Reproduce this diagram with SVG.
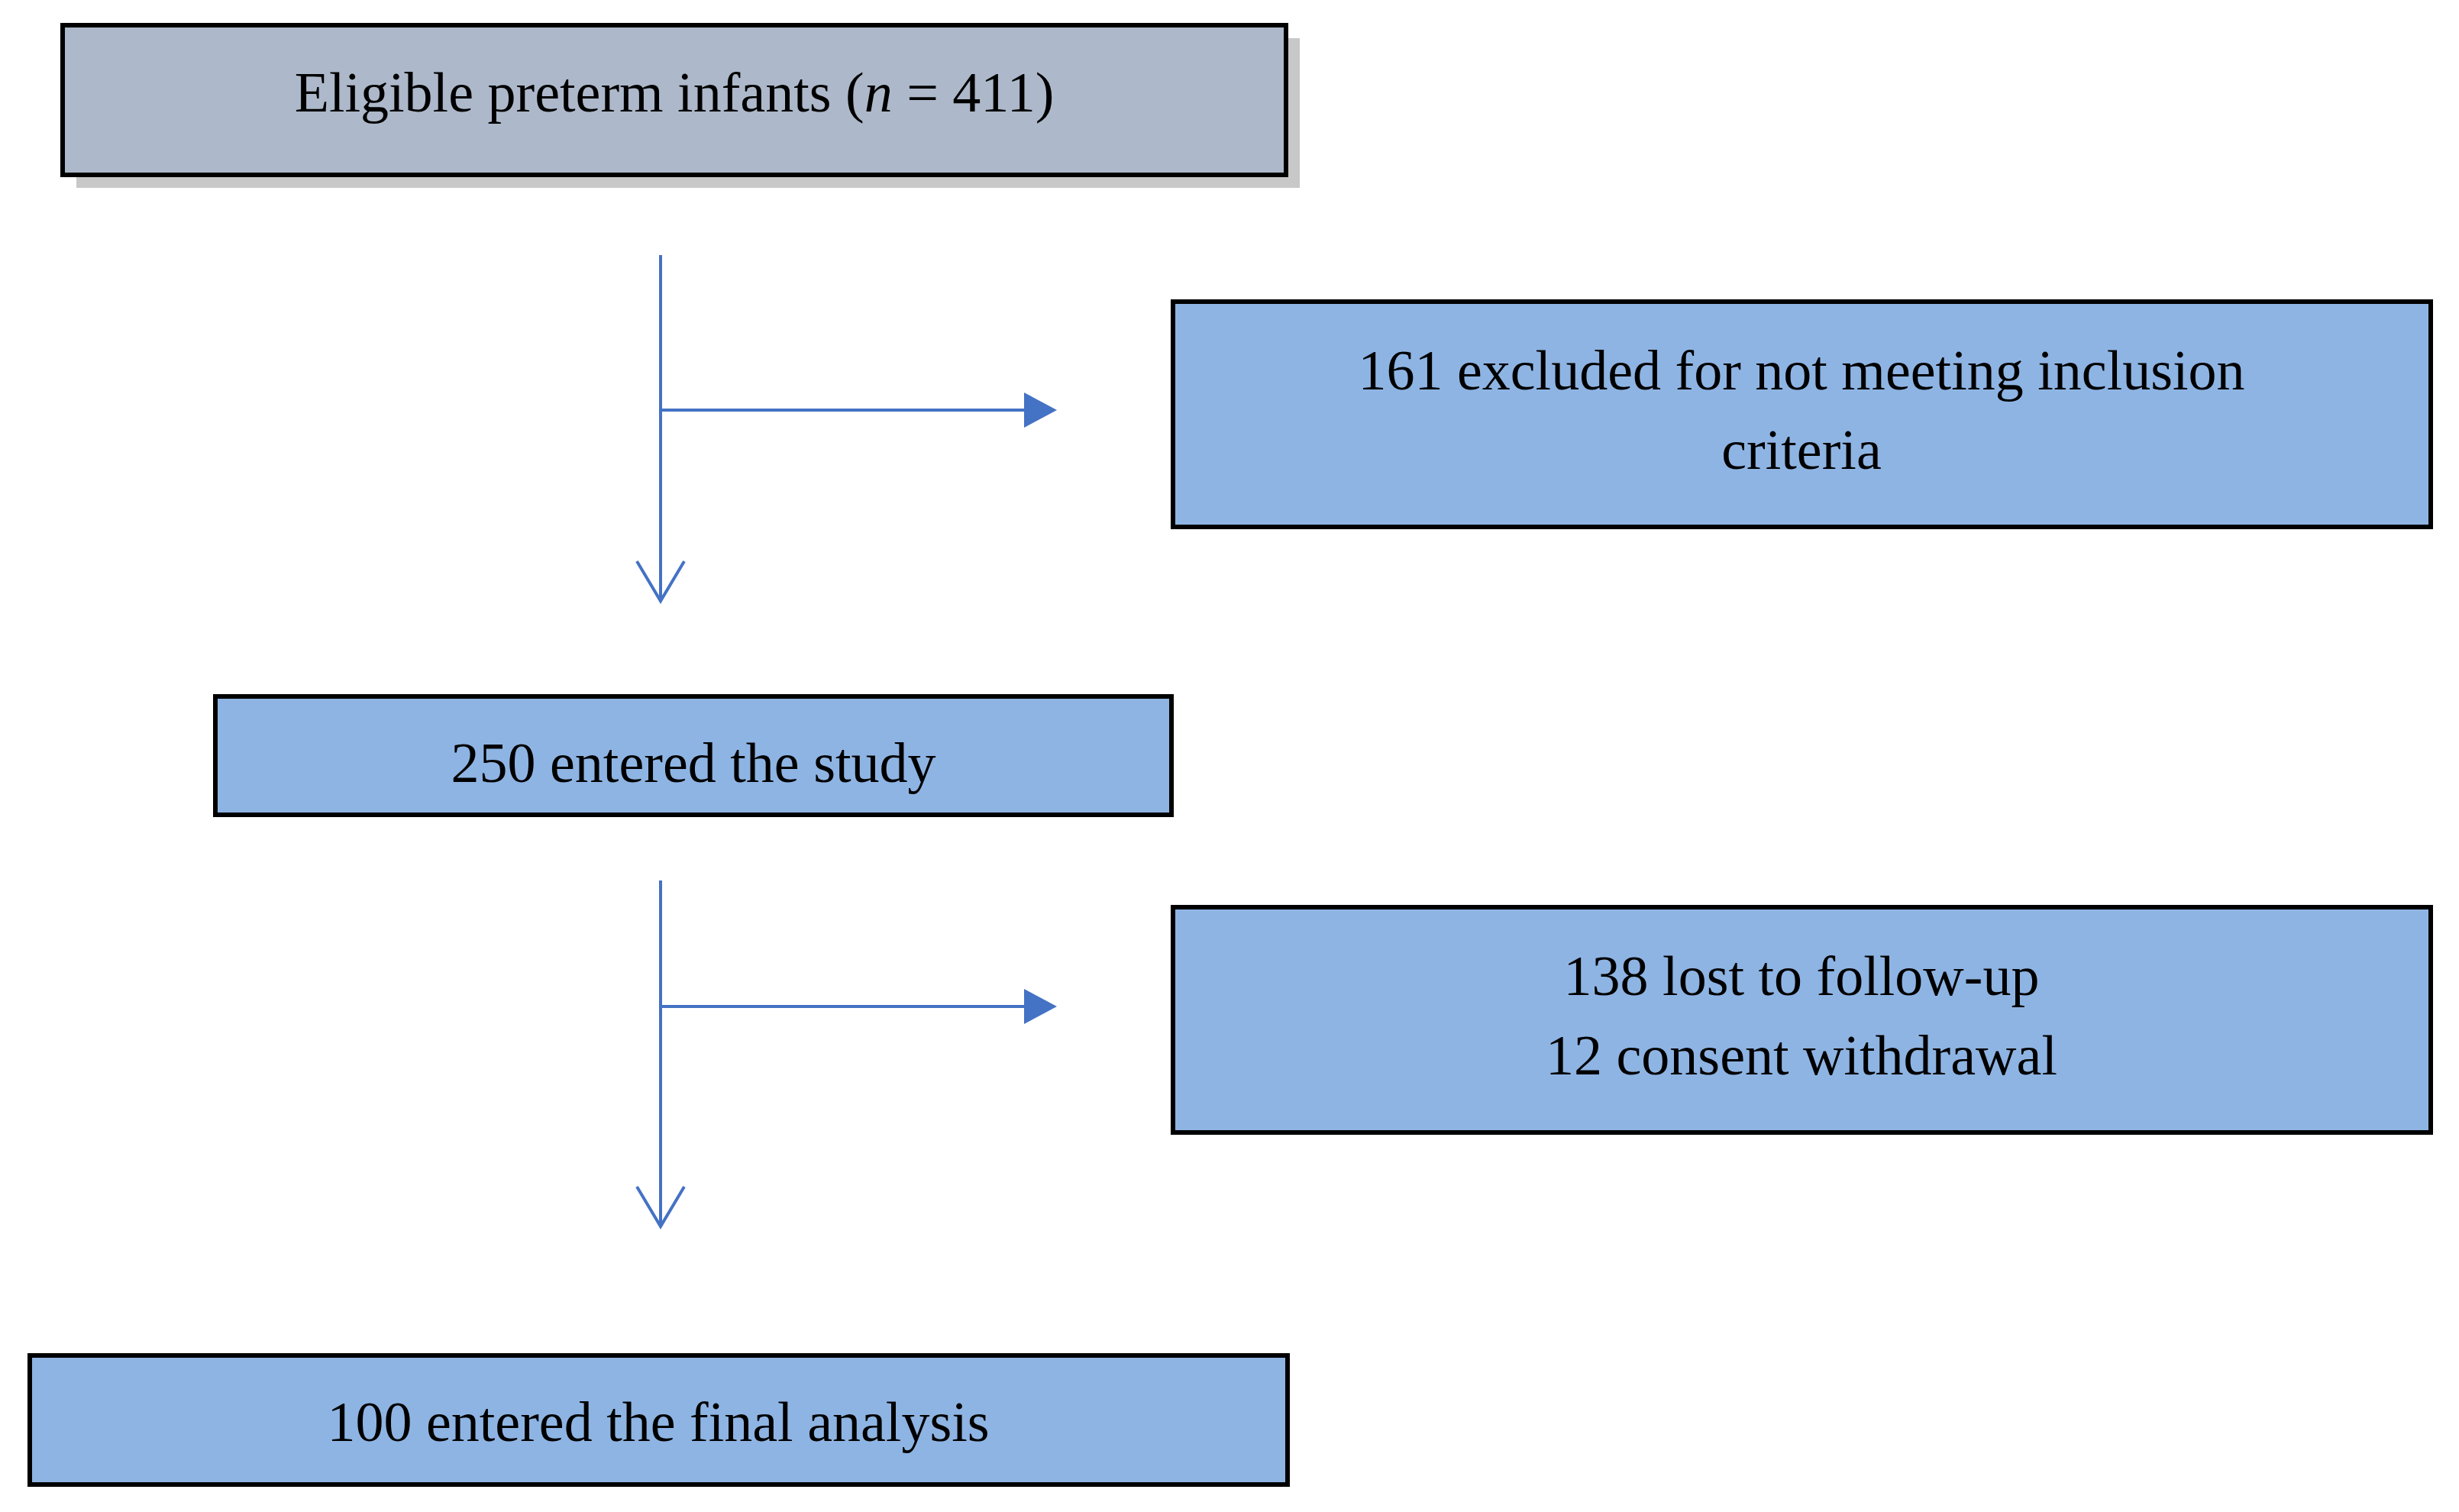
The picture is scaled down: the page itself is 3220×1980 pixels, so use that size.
<svg xmlns="http://www.w3.org/2000/svg" width="3220" height="1980" viewBox="0 0 3220 1980">
<style>
.box{stroke:#000;stroke-width:6}
.blue{fill:#8EB4E3}
.t{font-family:"Liberation Serif","DejaVu Serif",serif;font-size:74px;fill:#000;text-anchor:middle}
.c{stroke:#4472C4;stroke-width:4;fill:none}
.h{fill:#4472C4}
</style>
<rect width="3220" height="1980" fill="#fff"/>
<g id="n1">
<rect x="100" y="50" width="1602" height="196" fill="#C8C8C8"/>
<rect x="82" y="33" width="1602" height="196" class="box" fill="#ADB9CA"/>
<text x="883" y="146" class="t">Eligible preterm infants (<tspan font-style="italic">n</tspan> = 411)</text>
</g>
<g id="n2">
<rect x="1536" y="395" width="1647" height="295" class="box blue"/>
<text x="2359" y="510" class="t">161 excluded for not meeting inclusion</text>
<text x="2359" y="614" class="t">criteria</text>
</g>
<g id="n3">
<rect x="282" y="912" width="1252" height="155" class="box blue"/>
<text x="908" y="1024" class="t">250 entered the study</text>
</g>
<g id="n4">
<rect x="1536" y="1188" width="1647" height="295" class="box blue"/>
<text x="2359" y="1303" class="t">138 lost to follow-up</text>
<text x="2359" y="1407" class="t">12 consent withdrawal</text>
</g>
<g id="n5">
<rect x="39" y="1775" width="1647" height="169" class="box blue"/>
<text x="862" y="1887" class="t">100 entered the final analysis</text>
</g>
<g id="connectors">
<path class="c" d="M865 334V785M834 735L865 787L896 735"/>
<path class="c" d="M865 537H1345"/>
<path class="h" d="M1341 514L1384 537L1341 560Z"/>
<path class="c" d="M865 1153V1604M834 1554L865 1606L896 1554"/>
<path class="c" d="M865 1318H1345"/>
<path class="h" d="M1341 1295L1384 1318L1341 1341Z"/>
</g>
</svg>
